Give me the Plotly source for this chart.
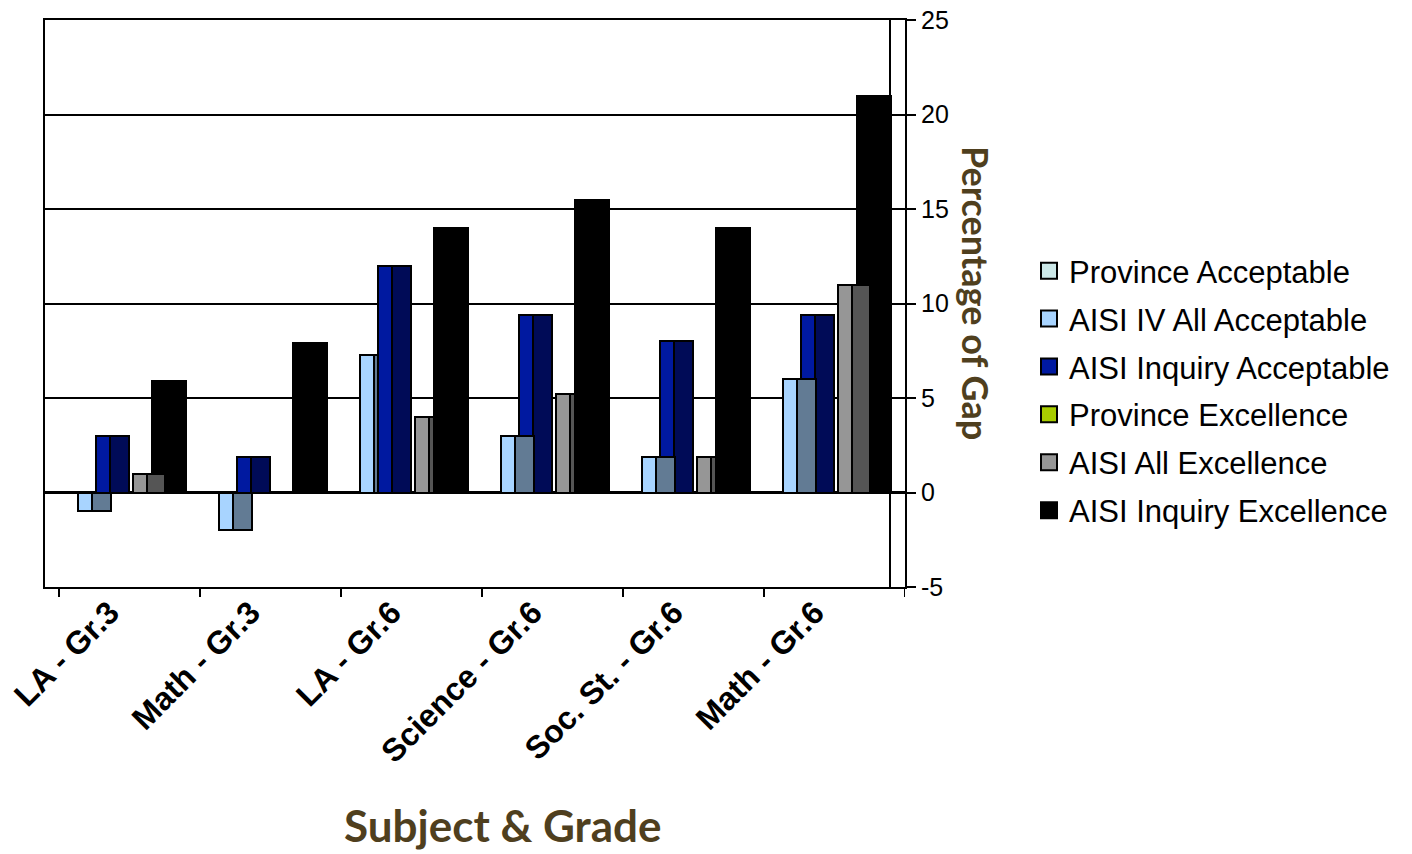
import plotly.graph_objects as go

# ---------------- data ----------------
categories = ["LA - Gr.3", "Math - Gr.3", "LA - Gr.6", "Science - Gr.6", "Soc. St. - Gr.6", "Math - Gr.6"]
province_acceptable = [0, 0, 0, 0, 0, 0]
aisi_iv_all_acceptable = [-1, -2, 7.3, 3, 1.9, 6]
aisi_inquiry_acceptable = [3, 1.9, 12, 9.4, 8, 9.4]
province_excellence = [0, 0, 0, 0, 0, 0]
aisi_all_excellence = [1, 0, 4, 5.2, 1.9, 11]
aisi_inquiry_excellence = [5.9, 7.9, 14, 15.5, 14, 21]
y_ticks = [-5, 0, 5, 10, 15, 20, 25]
y_tick_text = ["-5", "0", "5", "10", "15", "20", "25"]

# ---------------- geometry / style (pixels inside one category slot) ----------------
W, H = 1412, 854
PLOT_L, PLOT_R, PLOT_T, PLOT_B = 45, 905, 20, 587
CAT_PX = 141.0
FIRST_CAT_PX = 59
BACK_WALL_PX = 890

def u(p):
    return p / CAT_PX

FRONT_W = 14
# series: name, values, front colour, side colour, front offset, side width
ser = {
    "pa": ("Province Acceptable", province_acceptable, "#CCE8E8", "#8FB0B0", 0.2, 18.5),
    "iv": ("AISI IV All Acceptable", aisi_iv_all_acceptable, "#A8D4FF", "#627B94", 18.8, 19),
    "iq": ("AISI Inquiry Acceptable", aisi_inquiry_acceptable, "#0019A0", "#000B57", 37.2, 19),
    "pe": ("Province Excellence", province_excellence, "#A8CC00", "#6E8600", 55.8, 18.5),
    "ae": ("AISI All Excellence", aisi_all_excellence, "#969696", "#555555", 74.4, 17.5),
    "ie": ("AISI Inquiry Excellence", aisi_inquiry_excellence, "#000000", "#000000", 92.5, 20.5),
}
# side faces hidden behind the next column (Excel 3-D drawing order)
iv_side_hidden = [False, False, True, False, False, False]
ae_side_hidden = [False, False, True, True, True, False]

xs = list(range(len(categories)))
fig = go.Figure()

def add_face(key, side=False, hidden=None, next_key=None):
    name, vals, fc, sc, off, sw = ser[key]
    if not side:
        offs = [u(off)] * len(vals)
        widths = [u(FRONT_W)] * len(vals)
        color = fc
    else:
        offs = [u(off + FRONT_W)] * len(vals)
        widths = []
        for i in range(len(vals)):
            if hidden is not None and hidden[i]:
                widths.append(u(ser[next_key][4] - (off + FRONT_W)))
            else:
                widths.append(u(sw))
        color = sc
    fig.add_trace(go.Bar(
        x=xs, y=vals, offset=offs, width=widths,
        marker=dict(color=color, line=dict(color="#000000", width=2)),
        name=name, legendgroup=name, showlegend=False,
        hovertemplate=name + ": %{y}<extra></extra>",
    ))

add_face("pa"); add_face("pa", side=True)
add_face("iq"); add_face("iq", side=True)
add_face("iv"); add_face("iv", side=True, hidden=iv_side_hidden, next_key="iq")
add_face("pe"); add_face("pe", side=True)
add_face("ie"); add_face("ie", side=True)
add_face("ae"); add_face("ae", side=True, hidden=ae_side_hidden, next_key="ie")

# legend entries
for rank, key in enumerate(["pa", "iv", "iq", "pe", "ae", "ie"]):
    name, vals, fc, sc, off, sw = ser[key]
    fig.add_trace(go.Scatter(
        x=[None], y=[None], mode="markers", name=name, legendgroup=name,
        legendrank=rank + 1,
        marker=dict(symbol="square", size=16, color=fc, line=dict(color="#000000", width=2)),
        hoverinfo="skip",
    ))

x_min = u(PLOT_L - FIRST_CAT_PX)
x_max = u(PLOT_R - FIRST_CAT_PX)

shapes = []
# category tick marks (at category boundaries)
for k in range(len(categories) + 1):
    shapes.append(dict(type="line", xref="x", yref="paper", x0=k, x1=k,
                       y0=0, y1=-10 / (PLOT_B - PLOT_T), line=dict(color="#000000", width=2)))
# back wall right edge
bw = (BACK_WALL_PX - PLOT_L) / (PLOT_R - PLOT_L)
shapes.append(dict(type="line", xref="paper", yref="paper", x0=bw, x1=bw,
                   y0=0, y1=1, line=dict(color="#000000", width=2)))

title_color = "#4F3F1E"
annotations = [
    dict(text="<b>Subject &amp; Grade</b>", xref="paper", yref="paper",
         x=(503 - PLOT_L) / (PLOT_R - PLOT_L), y=-(825 - PLOT_B) / (PLOT_B - PLOT_T),
         xanchor="center", yanchor="middle", showarrow=False,
         font=dict(family="Lato, DejaVu Sans, sans-serif", size=44, color=title_color)),
    dict(text="<b>Percentage of Gap</b>", xref="paper", yref="paper",
         x=(976 - PLOT_L) / (PLOT_R - PLOT_L), y=(PLOT_B - 293) / (PLOT_B - PLOT_T),
         xanchor="center", yanchor="middle", showarrow=False, textangle=90,
         font=dict(family="Lato, DejaVu Sans, sans-serif", size=36, color=title_color)),
]

fig.update_layout(
    width=W, height=H,
    margin=dict(l=PLOT_L, r=W - PLOT_R, t=PLOT_T, b=H - PLOT_B, autoexpand=False),
    paper_bgcolor="#FFFFFF", plot_bgcolor="#FFFFFF",
    barmode="overlay",
    bargap=0,
    showlegend=True,
    legend=dict(
        x=(1029 - PLOT_L) / (PLOT_R - PLOT_L), xanchor="left",
        y=(PLOT_B - 244) / (PLOT_B - PLOT_T), yanchor="top",
        traceorder="grouped", tracegroupgap=4.6,
        font=dict(family="Liberation Sans, Arial, sans-serif", size=31, color="#000000"),
        bgcolor="rgba(0,0,0,0)", itemclick=False, itemdoubleclick=False,
    ),
    xaxis=dict(
        range=[x_min, x_max],
        tickmode="array",
        tickvals=[k + 0.36 for k in xs],
        ticktext=categories,
        tickangle=-45,
        ticks="",
        ticklabelstandoff=-8,
        showgrid=False,
        zeroline=False,
        showline=True, linecolor="#000000", linewidth=2, mirror=True,
        tickfont=dict(family="Liberation Sans, Arial, sans-serif", size=32, color="#000000", weight="bold"),
        fixedrange=True,
    ),
    yaxis=dict(
        range=[-5, 25],
        side="right",
        tickmode="array", tickvals=y_ticks, ticktext=y_tick_text,
        ticks="outside", ticklen=9, tickwidth=2, tickcolor="#000000",
        showgrid=True, gridcolor="#000000", gridwidth=2,
        zeroline=True, zerolinecolor="#000000", zerolinewidth=3,
        showline=True, linecolor="#000000", linewidth=2, mirror=True,
        tickfont=dict(family="Liberation Sans, Arial, sans-serif", size=25, color="#000000"),
        fixedrange=True,
    ),
    shapes=shapes,
    annotations=annotations,
)

fig.write_html("out.html", config={"displayModeBar": False},
               post_script="document.body.style.margin='0';")
